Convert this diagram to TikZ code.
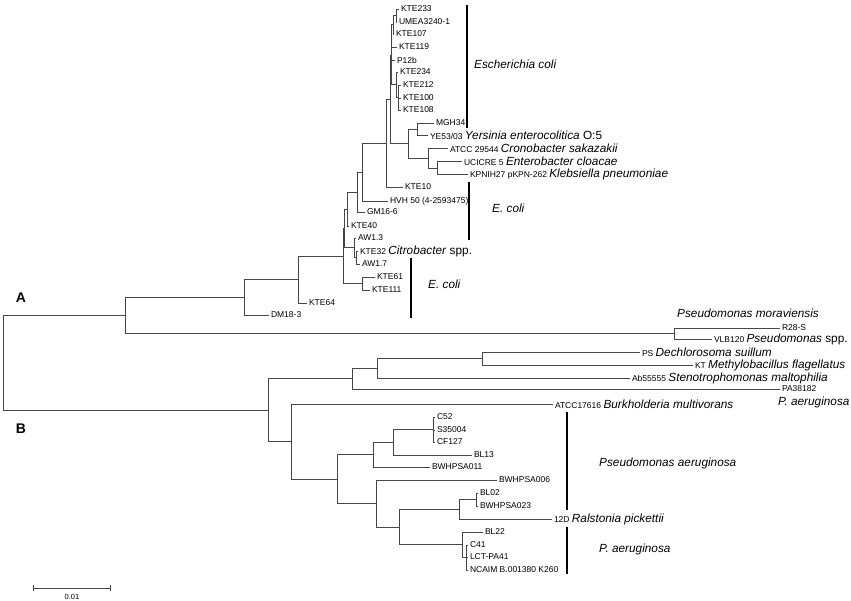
\documentclass[tikz,border=0pt]{standalone}
\usepackage{fontspec}
\setmainfont{Liberation Sans}
\usepackage{tikz}
\usetikzlibrary{arrows.meta, positioning}
\newcommand{\strainfont}{\fontsize{8.5}{9.5}\selectfont}
\newcommand{\bigtxt}{\fontsize{11.8}{13.5}\selectfont}

\begin{document}
\begin{tikzpicture}[
  x=1pt, y=-1pt,
  branch/.style={draw=black!72, line width=0.75pt},
  leaf/.style={anchor=west, inner sep=1.8pt, font=\strainfont},
  species/.style={anchor=west, inner sep=0pt, font=\bigtxt\itshape},
  cladebar/.style={draw=black, line width=2.6pt},
  grp/.style={font=\fontsize{14}{16}\selectfont\bfseries}
]
  \useasboundingbox (0,0) rectangle (851,601);

  % Root and the two main groups
  \coordinate (root) at (3,362.6);
  \coordinate (A) at (125,315.4);
  \coordinate (B) at (268,410.1);
  \draw[branch] (root) |- (A);
  \draw[branch] (root) |- (B);
  \node[grp] (lblA) at (21,298) {A};
  \node[grp] (lblB) at (21,429) {B};

  % Group A: inner nodes
  \coordinate (n244) at (244,297.25);
  \coordinate (pm) at (674,333.5);
  \coordinate (n298) at (298,279.5);
  \coordinate (m) at (343,256);
  \coordinate (m1) at (344,228.4);
  \coordinate (k61) at (362,283.5);
  \coordinate (n1) at (347,209);
  \coordinate (citro) at (354,247.75);
  \coordinate (citro2) at (356,257.5);
  \coordinate (n2) at (357,192);
  \coordinate (n3) at (362,172);
  \coordinate (n4) at (386,143);
  \coordinate (u) at (390,99.25);
  \coordinate (t1) at (391,55);
  \coordinate (ta) at (393,24.75);
  \coordinate (pair) at (396,15.5);
  \coordinate (k1) at (396,84.75);
  \coordinate (k2) at (398,97.5);
  \coordinate (yc) at (408,143.5);
  \coordinate (ym) at (417,129);
  \coordinate (n428) at (428,158);
  \coordinate (n437) at (437,168);

  % Group A: leaves
  \node[leaf] (kte233) at (399,9) {KTE233};
  \node[leaf] (umea) at (397,22) {UMEA3240-1};
  \node[leaf] (kte107) at (394,34) {KTE107};
  \node[leaf] (kte119) at (397,47) {KTE119};
  \node[leaf] (p12b) at (395,60) {P12b};
  \node[leaf] (kte234) at (398,72) {KTE234};
  \node[leaf] (kte212) at (401,85) {KTE212};
  \node[leaf] (kte100) at (401,98) {KTE100};
  \node[leaf] (kte108) at (401,110) {KTE108};
  \node[leaf] (mgh34) at (434,123) {MGH34};
  \node[leaf] (ye5303) at (428,135) {YE53/03 {\bigtxt\textit{Yersinia enterocolitica} O:5}};
  \node[leaf] (atcc29544) at (448,148) {ATCC 29544 {\bigtxt\textit{Cronobacter sakazakii}}};
  \node[leaf] (ucicre) at (462,161) {UCICRE 5 {\bigtxt\textit{Enterobacter cloacae}}};
  \node[leaf] (kpnih) at (468,174) {KPNIH27 pKPN-262 {\bigtxt\textit{Klebsiella pneumoniae}}};
  \node[leaf] (kte10) at (403,187) {KTE10};
  \node[leaf] (hvh50) at (388,201) {HVH 50 (4-2593475)};
  \node[leaf] (gm166) at (365,212) {GM16-6};
  \node[leaf] (kte40) at (349,226) {KTE40};
  \node[leaf] (aw13) at (356,238) {AW1.3};
  \node[leaf] (kte32) at (358,251) {KTE32 {\bigtxt\textit{Citrobacter} spp.}};
  \node[leaf] (aw17) at (360,264) {AW1.7};
  \node[leaf] (kte61) at (375,277) {KTE61};
  \node[leaf] (kte111) at (370,290) {KTE111};
  \node[leaf] (kte64) at (307,303) {KTE64};
  \node[leaf] (dm183) at (269,315) {DM18-3};
  \node[leaf] (r28s) at (780,328) {R28-S};
  \node[leaf] (vlb120) at (712,339) {VLB120 {\bigtxt\textit{Pseudomonas} spp.}};

  % Group A: branches
  \draw[branch] (A) |- (n244);
  \draw[branch] (A) |- (pm);
  \draw[branch] (n244) |- (n298);
  \draw[branch] (n244) |- (dm183.west);
  \draw[branch] (n298) |- (m);
  \draw[branch] (n298) |- (kte64.west);
  \draw[branch] (m) |- (m1);
  \draw[branch] (m) |- (k61);
  \draw[branch] (k61) |- (kte61.west);
  \draw[branch] (k61) |- (kte111.west);
  \draw[branch] (m1) |- (n1);
  \draw[branch] (m1) |- (citro);
  \draw[branch] (citro) |- (aw13.west);
  \draw[branch] (citro) |- (citro2);
  \draw[branch] (citro2) |- (kte32.west);
  \draw[branch] (citro2) |- (aw17.west);
  \draw[branch] (n1) |- (n2);
  \draw[branch] (n1) |- (kte40.west);
  \draw[branch] (n2) |- (n3);
  \draw[branch] (n2) |- (gm166.west);
  \draw[branch] (n3) |- (n4);
  \draw[branch] (n3) |- (hvh50.west);
  \draw[branch] (n4) |- (u);
  \draw[branch] (n4) |- (kte10.west);
  \draw[branch] (u) |- (t1);
  \draw[branch] (u) |- (yc);
  \draw[branch] (t1) |- (ta);
  \draw[branch] (t1) |- (kte119.west);
  \draw[branch] (t1) |- (p12b.west);
  \draw[branch] (t1) |- (k1);
  \draw[branch] (ta) |- (pair);
  \draw[branch] (ta) |- (kte107.west);
  \draw[branch] (pair) |- (kte233.west);
  \draw[branch] (pair) |- (umea.west);
  \draw[branch] (k1) |- (kte234.west);
  \draw[branch] (k1) |- (k2);
  \draw[branch] (k2) |- (kte212.west);
  \draw[branch] (k2) |- (kte100.west);
  \draw[branch] (k2) |- (kte108.west);
  \draw[branch] (yc) |- (ym);
  \draw[branch] (yc) |- (n428);
  \draw[branch] (ym) |- (mgh34.west);
  \draw[branch] (ym) |- (ye5303.west);
  \draw[branch] (n428) |- (atcc29544.west);
  \draw[branch] (n428) |- (n437);
  \draw[branch] (n437) |- (ucicre.west);
  \draw[branch] (n437) |- (kpnih.west);
  \draw[branch] (pm) |- (r28s.west);
  \draw[branch] (pm) |- (vlb120.west);

  % Group B: inner nodes
  \coordinate (x3) at (352,378.6);
  \coordinate (x2) at (377,368.25);
  \coordinate (x1) at (482,358.5);
  \coordinate (y) at (291,441.6);
  \coordinate (z) at (337,479.1);
  \coordinate (z1) at (373,454.75);
  \coordinate (z1b) at (393,442.5);
  \coordinate (csc) at (433,429.5);
  \coordinate (z2) at (376,503.5);
  \coordinate (w) at (399,526.9);
  \coordinate (w1) at (459,509);
  \coordinate (blpair) at (476,499.5);
  \coordinate (w2) at (462,544.75);
  \coordinate (cln) at (466,557.5);

  % Group B: leaves
  \node[leaf] (ps) at (640,352) {PS {\bigtxt\textit{Dechlorosoma suillum}}};
  \node[leaf] (kt) at (693,365) {KT {\bigtxt\textit{Methylobacillus flagellatus}}};
  \node[leaf] (ab55555) at (630,378) {Ab55555 {\bigtxt\textit{Stenotrophomonas maltophilia}}};
  \node[leaf] (pa38182) at (780,389) {PA38182};
  \node[leaf] (atcc17616) at (553,404) {ATCC17616 {\bigtxt\textit{Burkholderia multivorans}}};
  \node[leaf] (c52) at (435,417) {C52};
  \node[leaf] (s35004) at (435,430) {S35004};
  \node[leaf] (cf127) at (435,442) {CF127};
  \node[leaf] (bl13) at (472,455) {BL13};
  \node[leaf] (bwhpsa011) at (430,467) {BWHPSA011};
  \node[leaf] (bwhpsa006) at (497,480) {BWHPSA006};
  \node[leaf] (bl02) at (478,493) {BL02};
  \node[leaf] (bwhpsa023) at (478,506) {BWHPSA023};
  \node[leaf] (r12d) at (552,519) {12D {\bigtxt\textit{Ralstonia pickettii}}};
  \node[leaf] (bl22) at (483,532) {BL22};
  \node[leaf] (c41) at (468,545) {C41};
  \node[leaf] (lctpa41) at (468,557) {LCT-PA41};
  \node[leaf] (ncaim) at (468,570) {NCAIM B.001380 K260};

  % Group B: branches
  \draw[branch] (B) |- (x3);
  \draw[branch] (B) |- (y);
  \draw[branch] (x3) |- (x2);
  \draw[branch] (x3) |- (pa38182.west);
  \draw[branch] (x2) |- (x1);
  \draw[branch] (x2) |- (ab55555.west);
  \draw[branch] (x1) |- (ps.west);
  \draw[branch] (x1) |- (kt.west);
  \draw[branch] (y) |- (atcc17616.west);
  \draw[branch] (y) |- (z);
  \draw[branch] (z) |- (z1);
  \draw[branch] (z) |- (z2);
  \draw[branch] (z1) |- (z1b);
  \draw[branch] (z1) |- (bwhpsa011.west);
  \draw[branch] (z1b) |- (csc);
  \draw[branch] (z1b) |- (bl13.west);
  \draw[branch] (csc) |- (c52.west);
  \draw[branch] (csc) |- (s35004.west);
  \draw[branch] (csc) |- (cf127.west);
  \draw[branch] (z2) |- (bwhpsa006.west);
  \draw[branch] (z2) |- (w);
  \draw[branch] (w) |- (w1);
  \draw[branch] (w) |- (w2);
  \draw[branch] (w1) |- (blpair);
  \draw[branch] (w1) |- (r12d.west);
  \draw[branch] (blpair) |- (bl02.west);
  \draw[branch] (blpair) |- (bwhpsa023.west);
  \draw[branch] (w2) |- (bl22.west);
  \draw[branch] (w2) |- (cln);
  \draw[branch] (cln) |- (c41.west);
  \draw[branch] (cln) |- (lctpa41.west);
  \draw[branch] (cln) |- (ncaim.west);

  % Clade bars and species names
  \draw[cladebar] (467,5) -- (467,128);
  \draw[cladebar] (469,182) -- (469,240);
  \draw[cladebar] (411,258) -- (411,318);
  \draw[cladebar] (567,412) -- (567,510);
  \draw[cladebar] (567,527) -- (567,574);
  \node[species] (ecolitop) at (474,64) {Escherichia coli};
  \node[species] (ecolimid) at (492,208) {E. coli};
  \node[species] (ecolilow) at (428,284) {E. coli};
  \node[species] (pmor) at (677,313) {Pseudomonas moraviensis};
  \node[species] (paer1) at (778,402) {P. aeruginosa};
  \node[species] (paer2) at (599,463) {Pseudomonas aeruginosa};
  \node[species] (paer3) at (599,549) {P. aeruginosa};

  % Scale bar
  \coordinate (sb1) at (33,588);
  \coordinate (sb2) at (111,588);
  \draw[branch, {Bar[width=6pt]}-{Bar[width=6pt]}] (sb1) -- (sb2);
  \node[font=\fontsize{7.5}{8.5}\selectfont] (sblabel) at (72,597) {0.01};
\end{tikzpicture}
\end{document}
